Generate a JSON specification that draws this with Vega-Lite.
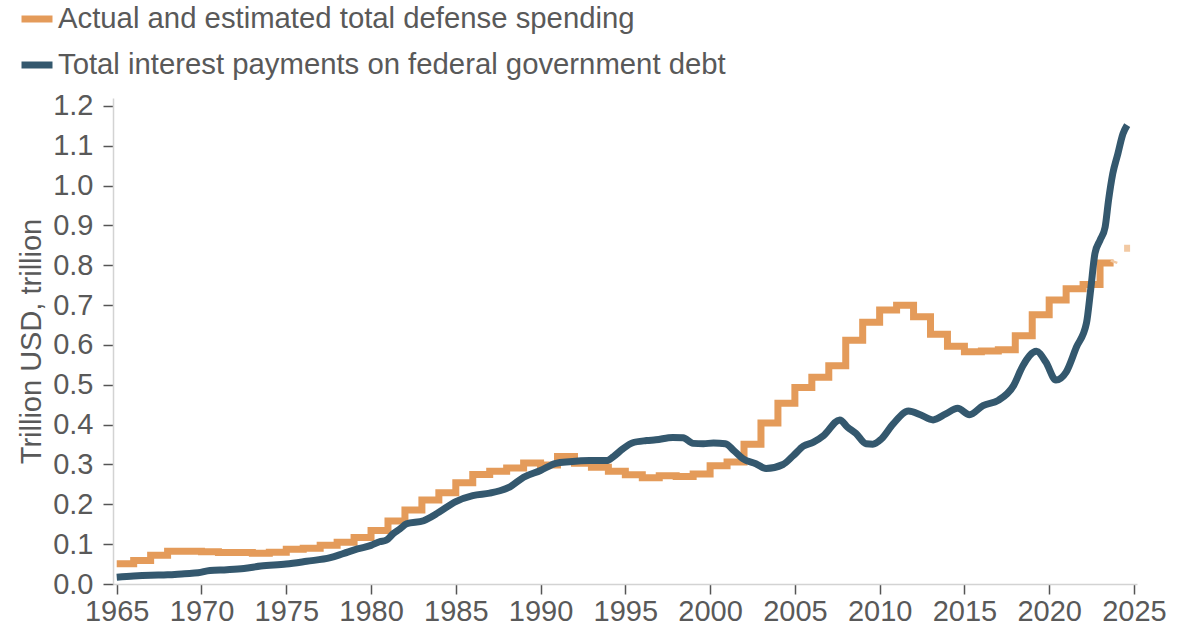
{
  "$schema": "https://vega.github.io/schema/vega-lite/v6.json",
  "width": 1024,
  "height": 486,
  "autosize": {"type": "none"},
  "padding": {"left": 113, "top": 98, "right": 49, "bottom": 44},
  "background": "white",
  "config": {
    "view": {"stroke": null},
    "font": "Liberation Sans",
    "axis": {"grid": false, "labelColor": "#595959", "titleColor": "#595959", "domainColor": "#d3d3d3", "domainWidth": 1.5, "tickColor": "#555555", "tickWidth": 1.5, "tickSize": 10, "labelFontSize": 29, "titleFontSize": 29, "titleFontWeight": "normal"}
  },
  "datasets": {
    "defense": [
      {"series": "Actual and estimated total defense spending", "year": 1965, "value": 0.051},
      {"series": "Actual and estimated total defense spending", "year": 1966, "value": 0.059},
      {"series": "Actual and estimated total defense spending", "year": 1967, "value": 0.072},
      {"series": "Actual and estimated total defense spending", "year": 1968, "value": 0.082},
      {"series": "Actual and estimated total defense spending", "year": 1969, "value": 0.082},
      {"series": "Actual and estimated total defense spending", "year": 1970, "value": 0.081},
      {"series": "Actual and estimated total defense spending", "year": 1971, "value": 0.079},
      {"series": "Actual and estimated total defense spending", "year": 1972, "value": 0.079},
      {"series": "Actual and estimated total defense spending", "year": 1973, "value": 0.077},
      {"series": "Actual and estimated total defense spending", "year": 1974, "value": 0.080},
      {"series": "Actual and estimated total defense spending", "year": 1975, "value": 0.087},
      {"series": "Actual and estimated total defense spending", "year": 1976, "value": 0.090},
      {"series": "Actual and estimated total defense spending", "year": 1977, "value": 0.097},
      {"series": "Actual and estimated total defense spending", "year": 1978, "value": 0.105},
      {"series": "Actual and estimated total defense spending", "year": 1979, "value": 0.117},
      {"series": "Actual and estimated total defense spending", "year": 1980, "value": 0.134},
      {"series": "Actual and estimated total defense spending", "year": 1981, "value": 0.158},
      {"series": "Actual and estimated total defense spending", "year": 1982, "value": 0.186},
      {"series": "Actual and estimated total defense spending", "year": 1983, "value": 0.211},
      {"series": "Actual and estimated total defense spending", "year": 1984, "value": 0.229},
      {"series": "Actual and estimated total defense spending", "year": 1985, "value": 0.254},
      {"series": "Actual and estimated total defense spending", "year": 1986, "value": 0.275},
      {"series": "Actual and estimated total defense spending", "year": 1987, "value": 0.283},
      {"series": "Actual and estimated total defense spending", "year": 1988, "value": 0.291},
      {"series": "Actual and estimated total defense spending", "year": 1989, "value": 0.304},
      {"series": "Actual and estimated total defense spending", "year": 1990, "value": 0.299},
      {"series": "Actual and estimated total defense spending", "year": 1991, "value": 0.320},
      {"series": "Actual and estimated total defense spending", "year": 1992, "value": 0.303},
      {"series": "Actual and estimated total defense spending", "year": 1993, "value": 0.293},
      {"series": "Actual and estimated total defense spending", "year": 1994, "value": 0.283},
      {"series": "Actual and estimated total defense spending", "year": 1995, "value": 0.274},
      {"series": "Actual and estimated total defense spending", "year": 1996, "value": 0.267},
      {"series": "Actual and estimated total defense spending", "year": 1997, "value": 0.272},
      {"series": "Actual and estimated total defense spending", "year": 1998, "value": 0.270},
      {"series": "Actual and estimated total defense spending", "year": 1999, "value": 0.276},
      {"series": "Actual and estimated total defense spending", "year": 2000, "value": 0.297},
      {"series": "Actual and estimated total defense spending", "year": 2001, "value": 0.306},
      {"series": "Actual and estimated total defense spending", "year": 2002, "value": 0.351},
      {"series": "Actual and estimated total defense spending", "year": 2003, "value": 0.404},
      {"series": "Actual and estimated total defense spending", "year": 2004, "value": 0.454},
      {"series": "Actual and estimated total defense spending", "year": 2005, "value": 0.493},
      {"series": "Actual and estimated total defense spending", "year": 2006, "value": 0.519},
      {"series": "Actual and estimated total defense spending", "year": 2007, "value": 0.548},
      {"series": "Actual and estimated total defense spending", "year": 2008, "value": 0.612},
      {"series": "Actual and estimated total defense spending", "year": 2009, "value": 0.657},
      {"series": "Actual and estimated total defense spending", "year": 2010, "value": 0.688},
      {"series": "Actual and estimated total defense spending", "year": 2011, "value": 0.700},
      {"series": "Actual and estimated total defense spending", "year": 2012, "value": 0.671},
      {"series": "Actual and estimated total defense spending", "year": 2013, "value": 0.627},
      {"series": "Actual and estimated total defense spending", "year": 2014, "value": 0.597},
      {"series": "Actual and estimated total defense spending", "year": 2015, "value": 0.583},
      {"series": "Actual and estimated total defense spending", "year": 2016, "value": 0.585},
      {"series": "Actual and estimated total defense spending", "year": 2017, "value": 0.588},
      {"series": "Actual and estimated total defense spending", "year": 2018, "value": 0.623},
      {"series": "Actual and estimated total defense spending", "year": 2019, "value": 0.676},
      {"series": "Actual and estimated total defense spending", "year": 2020, "value": 0.713},
      {"series": "Actual and estimated total defense spending", "year": 2021, "value": 0.741},
      {"series": "Actual and estimated total defense spending", "year": 2022, "value": 0.752},
      {"series": "Actual and estimated total defense spending", "year": 2023, "value": 0.806},
      {"series": "Actual and estimated total defense spending", "year": 2023.8, "value": 0.806}
    ],
    "estimate": [
      {"year": 2023.8, "value": 0.806},
      {"year": 2024.1, "value": 0.843},
      {"year": 2024.8, "value": 0.843}
    ],
    "interest": [
      {"series": "Total interest payments on federal government debt", "year": 1965.0, "value": 0.017},
      {"series": "Total interest payments on federal government debt", "year": 1966.0, "value": 0.020},
      {"series": "Total interest payments on federal government debt", "year": 1967.0, "value": 0.022},
      {"series": "Total interest payments on federal government debt", "year": 1968.0, "value": 0.023},
      {"series": "Total interest payments on federal government debt", "year": 1969.0, "value": 0.026},
      {"series": "Total interest payments on federal government debt", "year": 1969.8, "value": 0.028},
      {"series": "Total interest payments on federal government debt", "year": 1970.5, "value": 0.034},
      {"series": "Total interest payments on federal government debt", "year": 1971.5, "value": 0.036},
      {"series": "Total interest payments on federal government debt", "year": 1972.5, "value": 0.039},
      {"series": "Total interest payments on federal government debt", "year": 1973.5, "value": 0.045},
      {"series": "Total interest payments on federal government debt", "year": 1975.0, "value": 0.050},
      {"series": "Total interest payments on federal government debt", "year": 1976.2, "value": 0.057},
      {"series": "Total interest payments on federal government debt", "year": 1977.6, "value": 0.066},
      {"series": "Total interest payments on federal government debt", "year": 1978.4, "value": 0.077},
      {"series": "Total interest payments on federal government debt", "year": 1979.2, "value": 0.088},
      {"series": "Total interest payments on federal government debt", "year": 1980.0, "value": 0.097},
      {"series": "Total interest payments on federal government debt", "year": 1980.5, "value": 0.106},
      {"series": "Total interest payments on federal government debt", "year": 1980.9, "value": 0.110},
      {"series": "Total interest payments on federal government debt", "year": 1981.3, "value": 0.126},
      {"series": "Total interest payments on federal government debt", "year": 1981.7, "value": 0.138},
      {"series": "Total interest payments on federal government debt", "year": 1982.1, "value": 0.151},
      {"series": "Total interest payments on federal government debt", "year": 1983.1, "value": 0.159},
      {"series": "Total interest payments on federal government debt", "year": 1984.0, "value": 0.180},
      {"series": "Total interest payments on federal government debt", "year": 1985.0, "value": 0.207},
      {"series": "Total interest payments on federal government debt", "year": 1986.0, "value": 0.222},
      {"series": "Total interest payments on federal government debt", "year": 1987.0, "value": 0.228},
      {"series": "Total interest payments on federal government debt", "year": 1987.6, "value": 0.234},
      {"series": "Total interest payments on federal government debt", "year": 1988.2, "value": 0.244},
      {"series": "Total interest payments on federal government debt", "year": 1989.0, "value": 0.268},
      {"series": "Total interest payments on federal government debt", "year": 1990.0, "value": 0.285},
      {"series": "Total interest payments on federal government debt", "year": 1990.9, "value": 0.303},
      {"series": "Total interest payments on federal government debt", "year": 1991.7, "value": 0.307},
      {"series": "Total interest payments on federal government debt", "year": 1992.9, "value": 0.310},
      {"series": "Total interest payments on federal government debt", "year": 1993.9, "value": 0.310},
      {"series": "Total interest payments on federal government debt", "year": 1994.3, "value": 0.320},
      {"series": "Total interest payments on federal government debt", "year": 1994.85, "value": 0.339},
      {"series": "Total interest payments on federal government debt", "year": 1995.4, "value": 0.354},
      {"series": "Total interest payments on federal government debt", "year": 1996.25, "value": 0.360},
      {"series": "Total interest payments on federal government debt", "year": 1996.8, "value": 0.362},
      {"series": "Total interest payments on federal government debt", "year": 1997.8, "value": 0.368},
      {"series": "Total interest payments on federal government debt", "year": 1998.4, "value": 0.367},
      {"series": "Total interest payments on federal government debt", "year": 1999.0, "value": 0.353},
      {"series": "Total interest payments on federal government debt", "year": 1999.6, "value": 0.352},
      {"series": "Total interest payments on federal government debt", "year": 2000.2, "value": 0.354},
      {"series": "Total interest payments on federal government debt", "year": 2000.9, "value": 0.352},
      {"series": "Total interest payments on federal government debt", "year": 2001.4, "value": 0.335},
      {"series": "Total interest payments on federal government debt", "year": 2001.95, "value": 0.314},
      {"series": "Total interest payments on federal government debt", "year": 2002.7, "value": 0.302},
      {"series": "Total interest payments on federal government debt", "year": 2003.3, "value": 0.290},
      {"series": "Total interest payments on federal government debt", "year": 2004.3, "value": 0.300},
      {"series": "Total interest payments on federal government debt", "year": 2004.9, "value": 0.322},
      {"series": "Total interest payments on federal government debt", "year": 2005.5, "value": 0.346},
      {"series": "Total interest payments on federal government debt", "year": 2006.1, "value": 0.356},
      {"series": "Total interest payments on federal government debt", "year": 2006.7, "value": 0.373},
      {"series": "Total interest payments on federal government debt", "year": 2007.65, "value": 0.412},
      {"series": "Total interest payments on federal government debt", "year": 2008.1, "value": 0.394},
      {"series": "Total interest payments on federal government debt", "year": 2008.6, "value": 0.378},
      {"series": "Total interest payments on federal government debt", "year": 2009.2, "value": 0.352},
      {"series": "Total interest payments on federal government debt", "year": 2009.6, "value": 0.351},
      {"series": "Total interest payments on federal government debt", "year": 2010.1, "value": 0.364},
      {"series": "Total interest payments on federal government debt", "year": 2010.8, "value": 0.402},
      {"series": "Total interest payments on federal government debt", "year": 2011.7, "value": 0.434},
      {"series": "Total interest payments on federal government debt", "year": 2012.4, "value": 0.425},
      {"series": "Total interest payments on federal government debt", "year": 2013.15, "value": 0.412},
      {"series": "Total interest payments on federal government debt", "year": 2013.9, "value": 0.427},
      {"series": "Total interest payments on federal government debt", "year": 2014.6, "value": 0.441},
      {"series": "Total interest payments on federal government debt", "year": 2015.3, "value": 0.425},
      {"series": "Total interest payments on federal government debt", "year": 2016.1, "value": 0.448},
      {"series": "Total interest payments on federal government debt", "year": 2017.0, "value": 0.461},
      {"series": "Total interest payments on federal government debt", "year": 2017.9, "value": 0.498},
      {"series": "Total interest payments on federal government debt", "year": 2018.45, "value": 0.548},
      {"series": "Total interest payments on federal government debt", "year": 2019.25, "value": 0.584},
      {"series": "Total interest payments on federal government debt", "year": 2019.8, "value": 0.557},
      {"series": "Total interest payments on federal government debt", "year": 2020.4, "value": 0.512},
      {"series": "Total interest payments on federal government debt", "year": 2021.0, "value": 0.532},
      {"series": "Total interest payments on federal government debt", "year": 2021.6, "value": 0.594},
      {"series": "Total interest payments on federal government debt", "year": 2022.2, "value": 0.655},
      {"series": "Total interest payments on federal government debt", "year": 2022.45, "value": 0.74},
      {"series": "Total interest payments on federal government debt", "year": 2022.7, "value": 0.830},
      {"series": "Total interest payments on federal government debt", "year": 2023.0, "value": 0.863},
      {"series": "Total interest payments on federal government debt", "year": 2023.3, "value": 0.896},
      {"series": "Total interest payments on federal government debt", "year": 2023.5, "value": 0.963},
      {"series": "Total interest payments on federal government debt", "year": 2023.75, "value": 1.030},
      {"series": "Total interest payments on federal government debt", "year": 2024.05, "value": 1.080},
      {"series": "Total interest payments on federal government debt", "year": 2024.35, "value": 1.130},
      {"series": "Total interest payments on federal government debt", "year": 2024.6, "value": 1.152}
    ]
  },
  "layer": [
    {
      "data": {"name": "defense"},
      "mark": {"type": "line", "interpolate": "step-after", "strokeWidth": 7, "strokeCap": "butt"},
      "encoding": {
        "x": {"field": "year", "type": "quantitative", "scale": {"domain": [1964.78, 2025.18], "nice": false, "zero": false},
          "axis": {"values": [1965, 1970, 1975, 1980, 1985, 1990, 1995, 2000, 2005, 2010, 2015, 2020, 2025], "format": "d", "title": null, "labelPadding": 3, "labelFlush": false}},
        "y": {"field": "value", "type": "quantitative", "scale": {"domain": [0, 1.22], "nice": false},
          "axis": {"values": [0, 0.1, 0.2, 0.3, 0.4, 0.5, 0.6, 0.7, 0.8, 0.9, 1.0, 1.1, 1.2], "format": ".1f", "title": "Trillion USD, trillion", "titlePadding": 6, "labelPadding": 10}},
        "color": {"field": "series", "type": "nominal",
          "scale": {"domain": ["Actual and estimated total defense spending", "Total interest payments on federal government debt"], "range": ["#e49b5a", "#34586e"]},
          "legend": {"title": null, "orient": "none", "legendX": -95, "legendY": -98, "direction": "vertical", "labelFontSize": 29.3, "labelColor": "#595959", "labelLimit": 0, "symbolType": "stroke", "symbolStrokeWidth": 7, "symbolSize": 961, "labelOffset": 2, "rowPadding": 11, "padding": 0}}
      }
    },
    {
      "data": {"name": "estimate"},
      "mark": {"type": "line", "color": "#f2c9a3", "strokeWidth": 7, "strokeCap": "butt", "strokeDash": [2.5, 18.5, 6, 40]},
      "encoding": {
        "x": {"field": "year", "type": "quantitative"},
        "y": {"field": "value", "type": "quantitative"}
      }
    },
    {
      "data": {"name": "interest"},
      "mark": {"type": "line", "interpolate": "monotone", "strokeWidth": 7},
      "encoding": {
        "x": {"field": "year", "type": "quantitative"},
        "y": {"field": "value", "type": "quantitative"},
        "color": {"field": "series", "type": "nominal"}
      }
    }
  ]
}
